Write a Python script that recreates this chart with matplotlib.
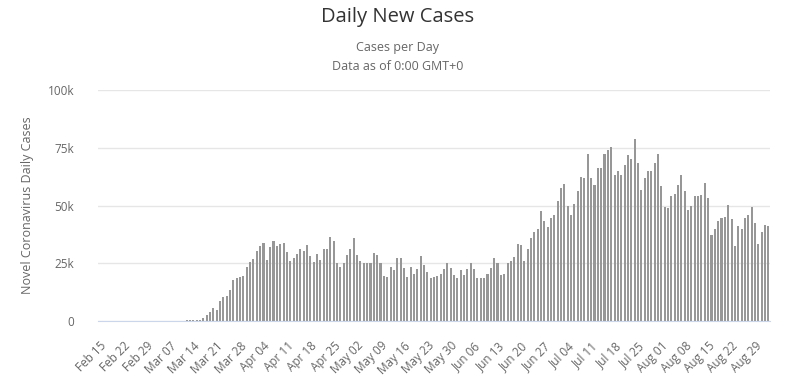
import matplotlib
matplotlib.use("Agg")
import matplotlib.pyplot as plt
import numpy as np

# daily new cases, Feb 15 .. Sep 02
feb = [0, 0, 0, 0, 0, 0, 20, 0, 0, 0, 0, 1, 0, 3, 6]
mar = [8, 23, 20, 31, 68, 47, 104, 96, 168, 290, 270, 405, 555, 450, 600, 700,
       1500, 2600, 4000, 5700, 4700, 8900, 10500, 11000, 13500, 17700, 18600,
       19200, 19600, 23500, 25600]
apr = [26800, 30400, 32600, 34000, 26500, 32000, 34600, 32700, 33600, 34000,
       29800, 26000, 27300, 29000, 31100, 30400, 33200, 28400, 25700, 29200,
       26500, 31100, 31100, 36400, 34600, 25400, 23400, 25400, 28800, 31100]
may = [36000, 28800, 25900, 25400, 25100, 25400, 29400, 28800, 25400, 19600,
       19200, 23500, 22100, 27300, 27300, 23000, 19200, 23500, 20600, 22500,
       28400, 24400, 21100, 18600, 19200, 19600, 20600, 22500, 25400, 23000, 20000]
jun = [18600, 22100, 20000, 22500, 25000, 22500, 18600, 18600, 18600, 20600,
       23000, 27300, 25400, 20000, 20600, 25400, 25900, 27600, 33600, 33200,
       25900, 31100, 36000, 38500, 39900, 47500, 43200, 40700, 44600, 46000]
jul = [52200, 57700, 59500, 49900, 46000, 50800, 56200, 62400, 61800, 72500,
       61800, 59000, 66100, 66100, 72500, 74000, 75200, 63400, 65100, 63400,
       67500, 71800, 70000, 78700, 68600, 56600, 61800, 65100, 65100, 68600, 72400]
aug = [58500, 49500, 48800, 54200, 55100, 58900, 63300, 56200, 48000, 49900,
       54200, 54200, 54500, 59900, 53200, 37200, 40100, 43500, 44600, 45000,
       50200, 44100, 32600, 41100, 39800, 44500, 46000, 49400, 42700, 33500, 38400]
sep = [41600, 41000]

cases = feb + mar + apr + may + jun + jul + aug + sep

tick_labels = ["Feb 15", "Feb 22", "Feb 29", "Mar 07", "Mar 14", "Mar 21",
               "Mar 28", "Apr 04", "Apr 11", "Apr 18", "Apr 25", "May 02",
               "May 09", "May 16", "May 23", "May 30", "Jun 06", "Jun 13",
               "Jun 20", "Jun 27", "Jul 04", "Jul 11", "Jul 18", "Jul 25",
               "Aug 01", "Aug 08", "Aug 15", "Aug 22", "Aug 29"]
y_ticks = [0, 25000, 50000, 75000, 100000]
y_labels = ["0", "25k", "50k", "75k", "100k"]

plt.rcParams["font.family"] = ["Open Sans", "DejaVu Sans"]

fig = plt.figure(figsize=(7.91, 3.77), dpi=100)
ax = fig.add_axes([98 / 791, 55.7 / 377, 672 / 791, 231.3 / 377])

x = np.arange(len(cases))
ax.bar(x, cases, width=0.62, color="#979797", zorder=2)

ax.set_xlim(-0.5, len(cases) - 0.5)
ax.set_ylim(0, 100000)

ax.set_yticks(y_ticks)
ax.set_yticklabels(y_labels)
ax.yaxis.grid(True, color="#e6e6e6", linewidth=1, zorder=0)
ax.tick_params(axis="y", length=0, pad=17, labelsize=8.5, labelcolor="#666666")

ax.set_xticks(x[::7][:len(tick_labels)])
ax.set_xticklabels(tick_labels, rotation=45, ha="right", va="top",
                   rotation_mode="anchor")
ax.tick_params(axis="x", length=0, pad=13, labelsize=8.5, labelcolor="#666666")

for side in ["top", "right", "left"]:
    ax.spines[side].set_visible(False)
ax.spines["bottom"].set_color("#ccd6eb")
ax.spines["bottom"].set_zorder(3)

ax.set_ylabel("Novel Coronavirus Daily Cases", fontsize=9, color="#666666",
              labelpad=10)

fig.text(0.503, 1 - 17 / 377, "Daily New Cases", ha="center", va="center",
         fontsize=14.5, color="#333333")
fig.text(0.503, 1 - 47 / 377, "Cases per Day", ha="center", va="center",
         fontsize=9, color="#666666")
fig.text(0.503, 1 - 67 / 377, "Data as of 0:00 GMT+0", ha="center",
         va="center", fontsize=9, color="#666666")

fig.savefig("out.png", dpi=100)
